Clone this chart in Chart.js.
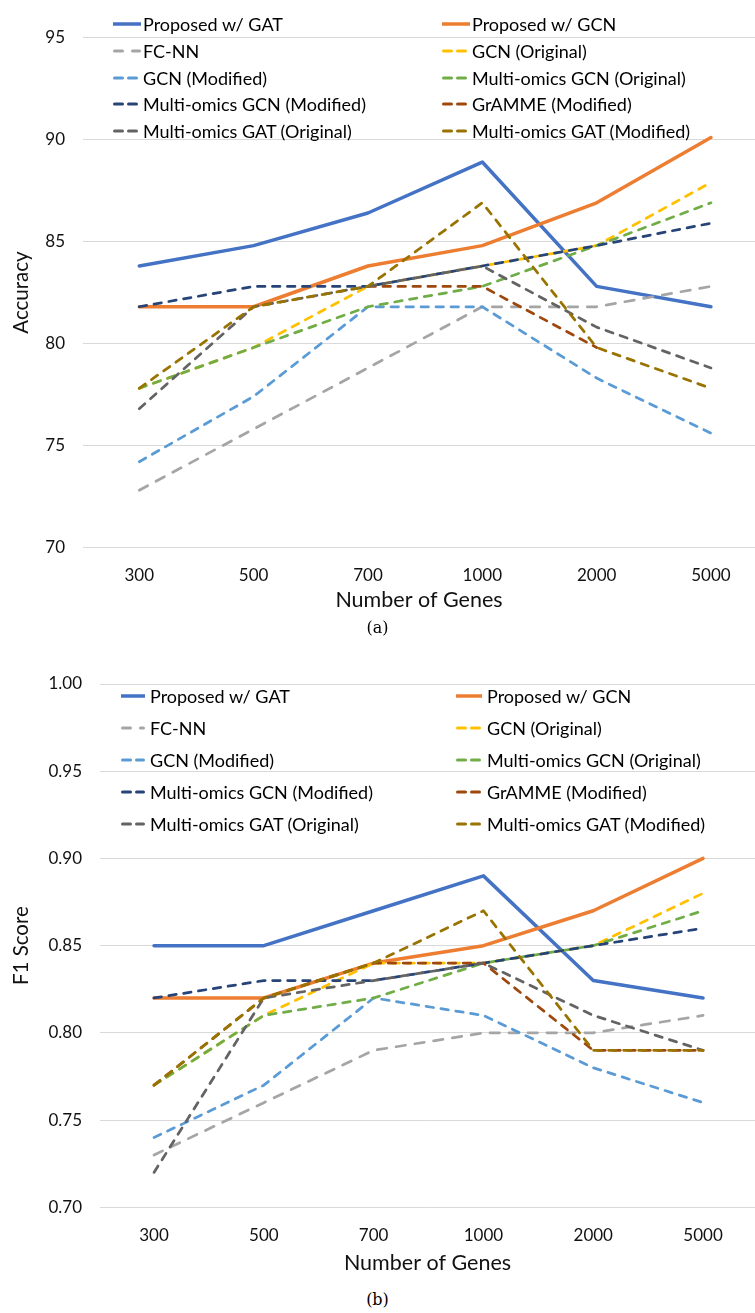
<!DOCTYPE html>
<html><head><meta charset="utf-8">
<script src="https://cdn.jsdelivr.net/npm/chart.js@4.4.0/dist/chart.umd.min.js"></script>
<style>
html,body{margin:0;padding:0;background:#fff;width:755px;height:1313px;overflow:hidden;position:relative;}
.box{position:absolute;left:0;width:755px;}
.lg{position:absolute;display:flex;align-items:center;font-family:Lato,'Liberation Sans',sans-serif;font-size:18px;color:#000;white-space:nowrap;height:22px;line-height:22px;}
.lg svg{flex:none;}
.caption{position:absolute;left:0;width:755px;text-align:center;font-family:'DejaVu Serif','Liberation Serif',serif;font-size:16px;color:#000;}
</style></head><body>
<div class="box" id="b1" style="top:0;height:620px"><canvas id="c1"></canvas></div>
<div class="box" id="b2" style="top:640px;height:640px"><canvas id="c2"></canvas></div>
<div class="caption" style="top:618px">(a)</div>
<div class="caption" style="top:1290px">(b)</div>
<div id="legends"></div>
<script>
// ---------- data ----------
const genes = ['300', '500', '700', '1000', '2000', '5000'];
const seriesNames = ['Proposed w/ GAT', 'Proposed w/ GCN', 'FC-NN', 'GCN (Original)', 'GCN (Modified)',
  'Multi-omics GCN (Original)', 'Multi-omics GCN (Modified)', 'GrAMME (Modified)',
  'Multi-omics GAT (Original)', 'Multi-omics GAT (Modified)'];
const seriesColors = ['#4472C4', '#ED7D31', '#A5A5A5', '#FFC000', '#5B9BD5',
  '#70AD47', '#264478', '#9E480E', '#636363', '#997300'];

// Accuracy (a)
const accProposedGAT = [83.8, 84.8, 86.4, 88.9, 82.8, 81.8];
const accProposedGCN = [81.8, 81.8, 83.8, 84.8, 86.9, 90.1];
const accFCNN        = [72.8, 75.8, 78.8, 81.8, 81.8, 82.8];
const accGCNOrig     = [77.8, 79.8, 82.8, 83.8, 84.8, 87.9];
const accGCNMod      = [74.2, 77.4, 81.8, 81.8, 78.3, 75.6];
const accMOGCNOrig   = [77.8, 79.8, 81.8, 82.8, 84.8, 86.9];
const accMOGCNMod    = [81.8, 82.8, 82.8, 83.8, 84.8, 85.9];
const accGrAMME      = [null, null, 82.8, 82.8, 79.8, null];
const accMOGATOrig   = [76.8, 81.8, 82.8, 83.8, 80.8, 78.8];
const accMOGATMod    = [77.8, 81.8, 82.8, 86.9, 79.8, 77.8];

// F1 score (b)
const f1ProposedGAT = [0.85, 0.85, 0.87, 0.89, 0.83, 0.82];
const f1ProposedGCN = [0.82, 0.82, 0.84, 0.85, 0.87, 0.90];
const f1FCNN        = [0.73, 0.76, 0.79, 0.80, 0.80, 0.81];
const f1GCNOrig     = [0.77, 0.81, 0.84, 0.84, 0.85, 0.88];
const f1GCNMod      = [0.74, 0.77, 0.82, 0.81, 0.78, 0.76];
const f1MOGCNOrig   = [0.77, 0.81, 0.82, 0.84, 0.85, 0.87];
const f1MOGCNMod    = [0.82, 0.83, 0.83, 0.84, 0.85, 0.86];
const f1GrAMME      = [0.77, 0.82, 0.84, 0.84, 0.79, 0.79];
const f1MOGATOrig   = [0.72, 0.82, 0.83, 0.84, 0.81, 0.79];
const f1MOGATMod    = [0.77, 0.82, 0.84, 0.87, 0.79, 0.79];

const accTicks = [70, 75, 80, 85, 90, 95];
const f1Ticks = ['0.70', '0.75', '0.80', '0.85', '0.90', '0.95', '1.00'];

const accSeries = [accProposedGAT, accProposedGCN, accFCNN, accGCNOrig, accGCNMod,
  accMOGCNOrig, accMOGCNMod, accGrAMME, accMOGATOrig, accMOGATMod];
const f1Series = [f1ProposedGAT, f1ProposedGCN, f1FCNN, f1GCNOrig, f1GCNMod,
  f1MOGCNOrig, f1MOGCNMod, f1GrAMME, f1MOGATOrig, f1MOGATMod];

// ---------- styling ----------
const FONT = "Lato, 'Liberation Sans', sans-serif";
const TXT = '#111';
function dashFor(i) {
  if (i < 2) return [];
  if (i === 2) return [9.5, 9.5];
  return [7.5, 7.5];
}
function widthFor(i) { return i < 2 ? 3.5 : 2.75; }

function buildDatasets(series) {
  const n = series.length;
  return series.map((vals, i) => ({
    label: seriesNames[i],
    data: vals.map((v, k) => ({ x: k, y: v })),
    borderColor: seriesColors[i],
    backgroundColor: seriesColors[i],
    borderWidth: widthFor(i),
    borderDash: dashFor(i),
    borderCapStyle: 'round',
    borderJoinStyle: 'round',
    pointRadius: 0,
    pointHoverRadius: 0,
    tension: 0,
    fill: false,
    spanGaps: false,
    order: n - 1 - i
  }));
}

function makeChart(id, series, g) {
  return new Chart(document.getElementById(id), {
    type: 'line',
    data: { datasets: buildDatasets(series) },
    options: {
      responsive: true,
      maintainAspectRatio: false,
      animation: false,
      devicePixelRatio: 1,
      layout: { padding: { top: g.top, left: 0, right: 0, bottom: 0 } },
      plugins: { legend: { display: false }, tooltip: { enabled: false }, title: { display: false } },
      scales: {
        x: {
          type: 'linear',
          min: g.xMin,
          max: g.xMax,
          grid: { display: false },
          border: { display: false },
          afterBuildTicks: (s) => { s.ticks = genes.map((_, k) => ({ value: k })); },
          afterFit: (s) => { s.height = g.xh; },
          ticks: {
            padding: g.tickPad,
            color: TXT,
            font: { family: FONT, size: 17 },
            maxRotation: 0,
            autoSkip: false,
            callback: (v) => genes[v]
          },
          title: {
            display: true,
            text: 'Number of Genes',
            color: TXT,
            font: { family: FONT, size: 21.5 },
            padding: { top: 0, bottom: g.titlePad }
          }
        },
        y: {
          type: 'linear',
          min: g.yMin,
          max: g.yMax,
          grid: { color: '#D9D9D9', lineWidth: 1, drawTicks: false },
          border: { display: false },
          afterFit: (s) => { s.width = g.left; },
          afterBuildTicks: (s) => { s.ticks = g.yTicks.map(t => ({ value: Number(t) })); },
          ticks: {
            padding: 18,
            color: TXT,
            font: { family: FONT, size: 17 },
            callback: g.fmt
          },
          title: {
            display: true,
            text: g.yTitle,
            color: TXT,
            font: { family: FONT, size: 20.5 },
            padding: { top: 9, bottom: 0 }
          }
        }
      }
    }
  });
}

makeChart('c1', accSeries, {
  top: 37.7, left: 83, xh: 620 - 547.3, xMin: -0.492, xMax: 5.385,
  yMin: 70, yMax: 95, yTicks: accTicks, fmt: (v) => String(v), yTitle: 'Accuracy',
  tickPad: 10, titlePad: 7
});
makeChart('c2', f1Series, {
  top: 44, left: 100, xh: 640 - 567.3, xMin: -0.492, xMax: 5.473,
  yMin: 0.70, yMax: 1.00, yTicks: f1Ticks, fmt: (v) => Number(v).toFixed(2), yTitle: 'F1 Score',
  tickPad: 10, titlePad: 4
});

// ---------- legends (HTML, built from the series arrays) ----------
function buildLegend(cfg) {
  const host = document.getElementById('legends');
  seriesNames.forEach((name, i) => {
    const col = i % 2, row = Math.floor(i / 2);
    const x = cfg.iconX[col], w = cfg.textX[col] - x - cfg.gap;
    const y = cfg.rowY0 + row * cfg.rowStep;
    const div = document.createElement('div');
    div.className = 'lg';
    div.style.left = x + 'px';
    div.style.top = (y - 11) + 'px';
    const dash = i < 2 ? 'stroke-linecap="butt"' :
      (i === 2 ? 'stroke-linecap="round" stroke-dasharray="8 10"' : 'stroke-linecap="round" stroke-dasharray="8 6"');
    const sw = i < 2 ? 3.5 : 3;
    const x1 = i < 2 ? 0 : 1.5;
    const x2 = i < 2 ? w : w - 1.5;
    div.innerHTML = '<svg width="' + (w + cfg.gap) + '" height="22"><line x1="' + x1 + '" y1="11" x2="' + x2 +
      '" y2="11" stroke="' + seriesColors[i] + '" stroke-width="' + sw + '" ' + dash + '/></svg><span>' +
      name + '</span>';
    host.appendChild(div);
  });
}
buildLegend({ iconX: [113, 442], textX: [143, 472], gap: 2, rowY0: 24, rowStep: 26.75 });
buildLegend({ iconX: [121, 456], textX: [150, 487], gap: 5, rowY0: 696, rowStep: 31.9 });
</script>
</body></html>
